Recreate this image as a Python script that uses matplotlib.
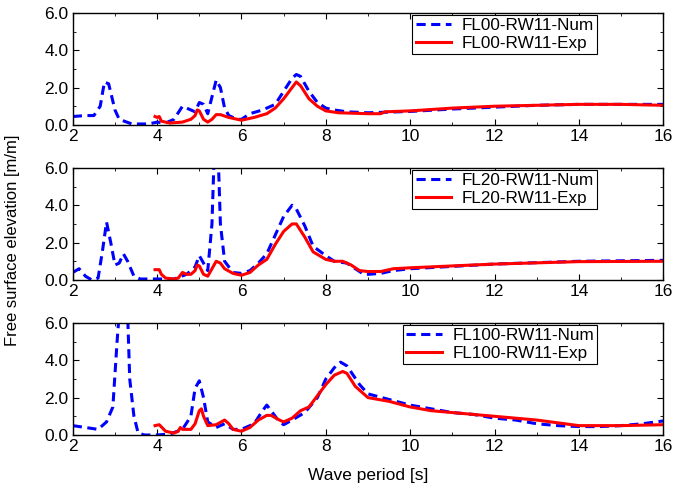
import matplotlib.pyplot as plt
from matplotlib.ticker import MultipleLocator

plt.rcParams['font.family'] = ['Liberation Sans', 'DejaVu Sans']
plt.rcParams['font.size'] = 12

# FL00 panel
t1_num = [2.0, 2.3, 2.5, 2.65, 2.75, 2.85, 3.0, 3.1, 3.4, 3.8, 4.0, 4.2, 4.4, 4.6, 4.8, 4.9, 5.0, 5.1,
          5.2, 5.3, 5.4, 5.5, 5.6, 5.7, 5.9, 6.0, 6.2, 6.5, 6.8, 7.0, 7.2, 7.3, 7.4, 7.6, 7.8, 8.0,
          8.2, 8.5, 9.0, 10, 11, 12, 13, 14, 15, 16]
h1_num = [0.45, 0.5, 0.5, 1.0, 2.3, 2.2, 0.8, 0.3, 0.05, 0.05, 0.15, 0.1, 0.3, 1.0, 0.8, 0.7, 1.2, 1.1,
          0.6, 1.5, 2.4, 2.0, 0.9, 0.5, 0.3, 0.3, 0.6, 0.8, 1.1, 1.8, 2.5, 2.7, 2.6, 1.8, 1.2, 0.9,
          0.8, 0.7, 0.65, 0.72, 0.85, 0.95, 1.05, 1.1, 1.1, 1.1]
t1_exp = [3.95, 4.0, 4.05, 4.1, 4.3, 4.6, 4.8, 4.9, 4.95, 5.0, 5.1, 5.2, 5.3, 5.4, 5.5, 5.7, 5.9, 6.0,
          6.3, 6.6, 6.8, 7.0, 7.2, 7.3, 7.4, 7.6, 7.8, 8.0, 8.3, 9.0, 9.3, 9.4, 10, 11, 12, 13, 14, 15, 16]
h1_exp = [0.45, 0.4, 0.45, 0.2, 0.1, 0.15, 0.3, 0.5, 0.8, 0.75, 0.3, 0.15, 0.3, 0.55, 0.55, 0.4, 0.3, 0.25,
          0.4, 0.6, 0.9, 1.4, 2.0, 2.3, 2.1, 1.4, 1.0, 0.75, 0.65, 0.6, 0.6, 0.7, 0.75, 0.9, 1.0, 1.05, 1.1, 1.1, 1.05]

# FL20 panel
t2_num = [2.0, 2.15, 2.3, 2.45, 2.6, 2.7, 2.8, 2.9, 3.0, 3.1, 3.2, 3.3, 3.45, 3.6, 3.9, 4.4, 4.7, 4.9,
          5.0, 5.1, 5.2, 5.3, 5.35, 5.45, 5.5, 5.6, 5.8, 6.0, 6.2, 6.4, 6.6, 6.8, 7.0, 7.2, 7.3, 7.5,
          7.7, 8.0, 8.2, 8.5, 8.7, 8.9, 9.0, 9.3, 9.6, 10, 12, 14, 16]
h2_num = [0.4, 0.6, 0.2, 0.0, 0.1, 1.5, 3.1, 2.0, 0.8, 0.9, 1.4, 1.0, 0.2, 0.05, 0.05, 0.05, 0.3, 0.7,
          1.3, 0.9, 0.5, 3.0, 6.5, 6.5, 3.0, 1.0, 0.4, 0.35, 0.5, 0.9, 1.4, 2.4, 3.4, 4.0, 3.8, 2.9,
          1.8, 1.3, 1.0, 0.9, 0.6, 0.3, 0.3, 0.35, 0.5, 0.6, 0.85, 1.0, 1.05]
t2_exp = [3.95, 4.05, 4.1, 4.2, 4.4, 4.5, 4.6, 4.7, 4.8, 4.9, 4.95, 5.0, 5.1, 5.2, 5.3, 5.4, 5.5, 5.6,
          5.8, 6.0, 6.2, 6.4, 6.6, 6.8, 7.0, 7.2, 7.3, 7.5, 7.7, 8.0, 8.2, 8.4, 8.6, 8.8, 9.0, 9.3,
          9.6, 10, 12, 14, 16]
h2_exp = [0.55, 0.55, 0.3, 0.1, 0.05, 0.1, 0.4, 0.3, 0.3, 0.5, 0.8, 0.75, 0.3, 0.2, 0.6, 1.0, 0.9, 0.6,
          0.35, 0.25, 0.4, 0.8, 1.1, 1.9, 2.6, 3.0, 3.0, 2.3, 1.5, 1.1, 1.0, 1.0, 0.8, 0.5, 0.45, 0.45,
          0.6, 0.65, 0.85, 0.98, 1.0]

# FL100 panel
t3_num = [2.0, 2.3, 2.6, 2.8, 2.95, 3.05, 3.1, 3.3, 3.35, 3.45, 3.55, 3.7, 4.0, 4.3, 4.6, 4.8, 4.9, 5.0,
          5.1, 5.2, 5.4, 5.6, 5.8, 6.0, 6.3, 6.5, 6.6, 6.7, 6.9, 7.0, 7.2, 7.5, 7.8, 8.0, 8.2, 8.35,
          8.5, 8.8, 9.0, 9.5, 10, 10.5, 11, 11.5, 12, 12.5, 13, 13.5, 14, 14.5, 15, 15.5, 16]
h3_num = [0.5, 0.4, 0.3, 0.7, 1.5, 5.0, 6.5, 6.5, 3.0, 1.0, 0.1, 0.0, 0.0, 0.05, 0.3, 1.0, 2.5, 2.9,
          2.0, 0.7, 0.4, 0.6, 0.3, 0.3, 0.6, 1.3, 1.6, 1.3, 0.7, 0.55, 0.8, 1.2, 2.0, 3.0, 3.6, 3.9,
          3.7, 2.7, 2.2, 1.9, 1.6, 1.4, 1.2, 1.1, 0.9, 0.8, 0.6, 0.5, 0.45, 0.45, 0.5, 0.6, 0.75]
t3_exp = [3.95, 4.05, 4.2, 4.4, 4.5, 4.55, 4.6, 4.7, 4.8, 4.9, 5.0, 5.05, 5.1, 5.2, 5.4, 5.6, 5.7, 5.8,
          6.0, 6.2, 6.4, 6.6, 6.7, 6.9, 7.0, 7.2, 7.4, 7.6, 7.8, 8.0, 8.2, 8.4, 8.5, 8.7, 9.0, 9.5,
          10, 10.5, 11, 12, 13, 14, 15, 16]
h3_exp = [0.5, 0.55, 0.2, 0.1, 0.2, 0.4, 0.3, 0.3, 0.3, 0.6, 1.3, 1.4, 1.0, 0.5, 0.55, 0.8, 0.6, 0.3,
          0.2, 0.4, 0.8, 1.05, 1.05, 0.8, 0.7, 0.9, 1.3, 1.5, 2.1, 2.7, 3.2, 3.4, 3.3, 2.6, 2.0, 1.8,
          1.5, 1.3, 1.2, 1.0, 0.8, 0.5, 0.5, 0.55]

panels = [
    (t1_num, h1_num, t1_exp, h1_exp, 'FL00-RW11'),
    (t2_num, h2_num, t2_exp, h2_exp, 'FL20-RW11'),
    (t3_num, h3_num, t3_exp, h3_exp, 'FL100-RW11'),
]

fig = plt.figure(figsize=(6.74, 4.86), dpi=100)
bottoms = [0.743, 0.424, 0.105]

for (tn, hn, te, he, name), b in zip(panels, bottoms):
    ax = fig.add_axes([0.108, b, 0.876, 0.2305])
    ax.plot(tn, hn, color='blue', linestyle=(0, (3, 1.8)), linewidth=2.2, label=name + '-Num')
    ax.plot(te, he, color='red', linewidth=2.2, label=name + '-Exp')
    ax.set_xlim(2, 16)
    ax.set_ylim(0, 6)
    ax.xaxis.set_major_locator(MultipleLocator(2))
    ax.xaxis.set_minor_locator(MultipleLocator(1))
    ax.yaxis.set_major_locator(MultipleLocator(2))
    ax.yaxis.set_minor_locator(MultipleLocator(1))
    ax.yaxis.set_major_formatter(plt.FormatStrFormatter('%.1f'))
    ax.tick_params(which='both', direction='in', top=True, right=True, labelsize=12.5, pad=3)
    ax.tick_params(which='major', length=4)
    ax.tick_params(which='minor', length=2.5)
    for s in ax.spines.values():
        s.set_linewidth(1.0)
    leg = ax.legend(loc='upper right', bbox_to_anchor=(0.892, 1.0), fontsize=12.3,
                    fancybox=False, edgecolor='black', framealpha=1, borderaxespad=0.12,
                    handlelength=2.1, handletextpad=0.6, borderpad=0.2, labelspacing=0.15)
    leg.get_frame().set_linewidth(0.8)

fig.text(0.018, 0.505, 'Free surface elevation [m/m]', rotation=90, va='center', ha='center', fontsize=12)
fig.text(0.546, 0.022, 'Wave period [s]', ha='center', va='center', fontsize=12.5)

fig.savefig('out.png', dpi=100)
